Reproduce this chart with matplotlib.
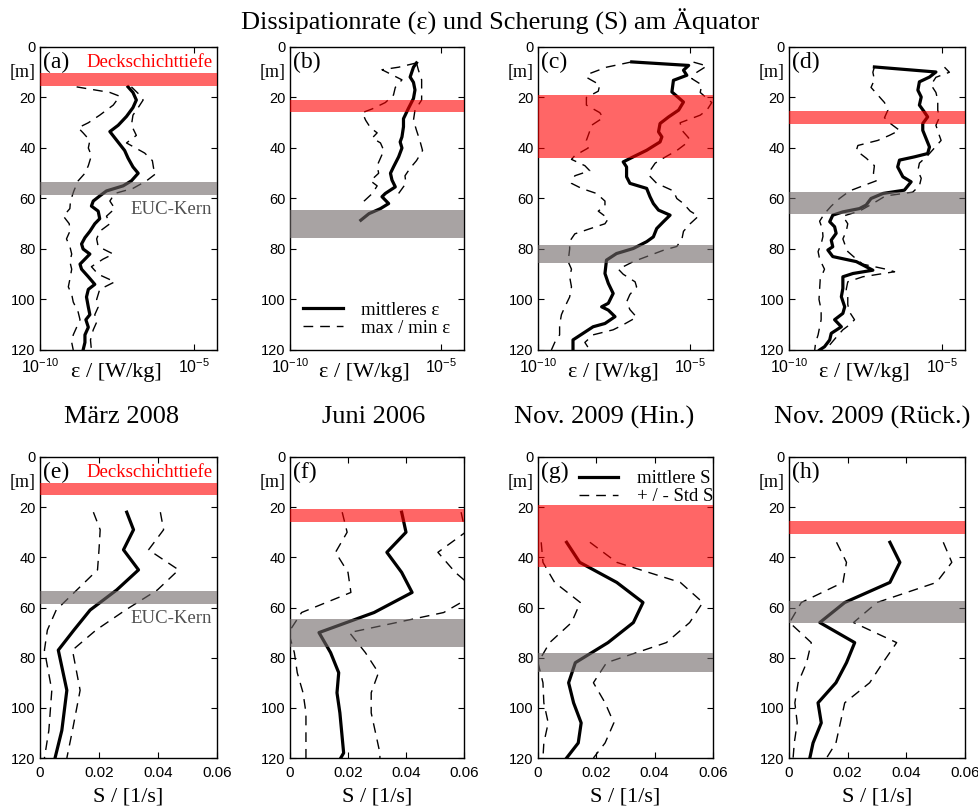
import matplotlib
matplotlib.use("Agg")
import matplotlib.pyplot as plt
import numpy as np
from matplotlib.ticker import NullLocator

SERIF = "Liberation Serif"
SANS = "Liberation Sans"
plt.rcParams["font.family"] = SANS
plt.rcParams["mathtext.fontset"] = "custom"
plt.rcParams["mathtext.rm"] = SANS
plt.rcParams["mathtext.it"] = SANS + ":italic"
plt.rcParams["mathtext.bf"] = SANS + ":bold"

# --- dissipation rate, log10(eps) in W/kg, against depth in m ---
# (a) Maerz 2008
depth_mean_a = [15.8, 18, 21, 24, 27.5, 31, 33.5, 36, 41, 44, 47.5, 50, 53, 55, 57,
                59, 61, 63, 65, 68, 70, 73, 75.5, 78, 80, 82, 84, 86, 88, 91,
                94, 96, 99, 103, 106, 108, 111, 114, 117, 120]
eps_mean_a = [-7.14, -6.98, -6.87, -6.98, -7.19, -7.46, -7.73, -7.57, -7.25, -7.14,
              -6.98, -6.81, -7.03, -7.30, -7.84, -8.06, -8.27, -8.33, -8.11, -8.06,
              -8.22, -8.38, -8.54, -8.65, -8.60, -8.38, -8.54, -8.70, -8.65, -8.43,
              -8.22, -8.43, -8.49, -8.43, -8.38, -8.51, -8.43, -8.54, -8.54, -8.60]
depth_max_a = [15.8, 19, 21, 24, 27, 31, 35, 38, 42, 45, 48, 50, 53, 56, 58, 61, 64,
               67, 70, 73, 76, 79, 82, 84, 87, 90, 93, 96, 100, 103, 106, 109, 112,
               116, 120]
eps_max_a = [-7.03, -6.76, -6.65, -6.81, -6.98, -7.03, -6.87, -7.19, -6.60, -6.35,
             -6.31, -6.22, -6.54, -6.98, -7.57, -7.73, -7.57, -7.84, -7.73, -8.06,
             -8.16, -8.11, -7.62, -7.95, -8.33, -8.11, -7.57, -8.06, -8.16, -8.11,
             -8.22, -8.16, -8.27, -8.36, -8.33]
depth_min_a = [15.8, 18, 19.5, 23, 27, 30, 32, 34, 37, 40, 43, 47, 50, 53, 57, 61, 64,
               67, 70, 73, 76, 79, 82, 85, 88, 92, 95, 98, 101, 105, 108, 111, 114,
               117, 120]
eps_min_a = [-8.81, -7.73, -7.41, -7.62, -8.06, -8.43, -8.76, -8.60, -8.38, -8.43,
             -8.33, -8.43, -8.54, -8.76, -8.90, -9.01, -9.03, -9.24, -9.05, -9.03,
             -9.14, -9.03, -8.97, -9.03, -8.97, -9.03, -9.08, -8.97, -8.92, -8.76,
             -8.70, -8.81, -8.92, -8.97, -8.92]

# (b) Juni 2006
depth_mean_b = [6.3, 8, 11.9, 14, 17, 20.4, 24.4, 28.4, 31.6, 35.6, 37.6, 40, 43.5,
                47.5, 50, 52.7, 55.4, 58, 59.3, 62, 64, 66, 68.6]
eps_mean_b = [-5.82, -5.92, -6.03, -5.92, -5.87, -5.92, -6.09, -6.25, -6.25, -6.30,
              -6.36, -6.30, -6.41, -6.58, -6.68, -6.63, -6.52, -6.85, -6.96, -6.74,
              -7.01, -7.39, -7.66]
depth_max_b = [6.3, 9, 13, 17, 21, 25, 29, 33, 37, 41, 45, 48, 51, 54, 58]
eps_max_b = [-5.82, -5.76, -5.65, -5.65, -5.65, -5.87, -5.92, -5.82, -5.71, -5.62,
             -5.82, -6.03, -6.20, -6.17, -6.41]
depth_min_b = [6.3, 8, 9, 11, 13, 16, 19, 22, 24.5, 26, 29, 32, 34, 36, 38, 41, 44,
               47, 50, 53, 55, 58, 61, 62]
eps_min_b = [-5.82, -6.41, -6.96, -6.63, -6.30, -6.52, -6.58, -6.85, -7.28, -7.61,
             -7.50, -7.34, -7.12, -7.28, -7.01, -6.90, -7.01, -7.12, -7.07, -7.34,
             -7.12, -7.28, -7.55, -7.61]

# (c) Nov. 2009, Hinfahrt
depth_mean_c = [5.9, 7.3, 9.2, 11.2, 13.2, 17.8, 21.8, 25, 27.7, 30.3, 33.6, 35.6,
                37.6, 40.9, 43.5, 45.5, 47.5, 51.4, 54, 56, 59.3, 62, 64.6, 66.6,
                69.2, 71.9, 75.2, 77.1, 79.8, 81.8, 84.4, 89.7, 93.6, 97.6, 101.5,
                102.9, 104.2, 106.8, 109.5, 110.8, 113.4, 116, 120]
eps_mean_c = [-6.92, -5.05, -5.22, -5.11, -5.55, -5.60, -5.22, -5.38, -5.71, -5.99,
              -6.04, -5.93, -5.99, -6.43, -6.87, -7.20, -7.09, -7.09, -6.98, -6.43,
              -6.32, -6.21, -6.04, -5.66, -5.88, -6.10, -6.21, -6.43, -6.87, -7.42,
              -7.75, -7.80, -7.69, -7.53, -7.69, -7.91, -7.69, -7.47, -7.80, -8.19,
              -8.52, -8.85, -8.85]
depth_max_c = [6, 7.5, 10, 12.5, 15, 18, 22, 25, 27, 30, 33, 36, 38, 41, 44, 46, 49,
               51, 54, 57, 60, 62, 65, 67, 70, 73, 76, 79, 80.5, 83, 85, 88, 90, 93,
               95, 98, 101, 104, 107, 110, 112, 114, 117, 120]
eps_max_c = [-4.89, -4.45, -4.78, -4.95, -4.62, -4.67, -4.29, -4.45, -4.67, -5.33,
             -5.27, -5.05, -5.11, -5.44, -5.88, -6.15, -6.32, -6.34, -6.10, -5.55,
             -5.44, -5.22, -5.00, -4.73, -5.00, -5.22, -5.27, -5.44, -5.88, -6.43,
             -6.87, -7.36, -7.20, -6.81, -6.76, -6.98, -7.09, -6.98, -6.76, -7.20,
             -7.53, -8.19, -8.46, -8.30]
depth_min_c = [5.9, 8, 10.5, 12, 15, 17.5, 20, 23, 26, 28, 31, 34, 37, 40, 43, 44.5,
               47, 49, 51, 54, 56, 58, 61, 63, 65, 68, 70, 72, 74, 77, 80, 85, 88,
               91, 95, 99, 103, 106, 110, 114, 117, 120]
eps_min_c = [-6.92, -7.75, -8.30, -8.41, -7.97, -8.02, -8.41, -8.41, -7.97, -7.86,
             -8.24, -8.32, -8.41, -8.35, -8.79, -8.90, -8.46, -8.30, -8.79, -8.90,
             -8.57, -8.08, -7.80, -7.80, -8.02, -7.69, -7.80, -8.30, -8.79, -8.96,
             -8.96, -9.01, -8.90, -8.96, -8.90, -8.96, -9.12, -9.23, -9.29, -9.29,
             -9.45, -9.56]

# (d) Nov. 2009, Rueckfahrt
depth_mean_d = [7.9, 9.9, 11.9, 13.8, 17.1, 19.8, 23, 25.7, 27.7, 30.3, 33, 36.3,
                39.6, 42.2, 43.5, 44.8, 47.5, 51.4, 53.4, 56.7, 58, 60, 62.6, 64,
                65.3, 66.6, 69.2, 71.2, 73.8, 76.5, 79.1, 80.4, 83, 85, 88.4, 89.7,
                91, 95.6, 98.9, 102.9, 105.5, 108, 110.8, 113.4, 116, 118.7, 120]
eps_mean_d = [-7.21, -5.20, -5.41, -5.74, -5.79, -5.68, -5.74, -5.58, -5.47, -5.63,
              -5.63, -5.52, -5.41, -5.47, -5.90, -6.39, -6.45, -6.28, -6.01, -6.23,
              -6.93, -7.32, -7.48, -7.70, -8.24, -8.57, -8.67, -8.51, -8.46, -8.62,
              -8.57, -8.73, -8.57, -7.80, -7.26, -7.91, -8.24, -8.24, -8.29, -8.18,
              -8.24, -8.51, -8.29, -8.62, -8.67, -8.84, -9.00]
depth_max_d = [8, 10, 12, 15, 18, 21, 25, 28, 31, 35, 37, 40, 43, 46, 49, 52, 55,
               57.5, 59, 62, 65, 67, 70, 73, 76, 78, 81, 84, 86, 88, 89, 91, 93, 96,
               99, 102, 105, 108, 110, 112, 115, 118, 120]
eps_max_d = [-4.92, -4.76, -5.20, -5.36, -5.20, -5.14, -5.14, -5.09, -5.20, -5.09,
             -5.03, -5.25, -5.47, -5.74, -5.79, -5.68, -5.74, -5.96, -6.85, -7.26,
             -7.70, -8.24, -8.08, -8.13, -8.24, -8.18, -8.08, -7.80, -7.59, -6.83,
             -6.55, -7.59, -8.08, -8.13, -8.08, -8.08, -8.02, -7.86, -8.02, -8.24,
             -8.46, -8.67, -8.78]
depth_min_d = [7.9, 10, 13, 16, 19, 22, 25, 28, 30, 33, 35, 37, 39, 41, 44, 47, 50,
               53, 55, 57, 60, 63, 66, 69, 72, 75, 78, 81, 84, 88, 92, 96, 100, 104,
               108, 111, 114, 117, 120]
eps_min_d = [-7.21, -7.26, -7.21, -7.32, -7.10, -6.88, -6.77, -6.88, -6.72, -6.39,
             -6.72, -7.10, -7.75, -7.80, -7.48, -7.21, -7.24, -7.15, -7.59, -8.02,
             -8.35, -8.62, -8.84, -9.00, -8.91, -8.89, -8.95, -9.05, -9.00, -8.84,
             -8.98, -9.00, -9.02, -8.95, -8.95, -9.00, -9.05, -9.13, -9.16]

# --- shear S in 1/s: mean and mean +/- std ---
depth_e = [22, 29, 37, 45, 53, 61, 69, 77, 93, 109, 120]
s_mean_e = [0.0294, 0.0317, 0.0283, 0.0334, 0.0260, 0.0170, 0.0115, 0.0062, 0.0091, 0.0074, 0.0051]
s_max_e = [0.0408, 0.0419, 0.0368, 0.0470, 0.0398, 0.0290, 0.0190, 0.0110, 0.0136, 0.0110, 0.0091]
s_min_e = [0.0181, 0.0204, 0.0200, 0.0195, 0.0125, 0.0055, 0.0025, 0.0015, 0.0040, 0.0030, 0.0015]

depth_f = [22, 30, 38, 46, 54, 62, 70, 78, 86, 94, 102, 118, 120]
s_mean_f = [0.0385, 0.0400, 0.0334, 0.0385, 0.0421, 0.0290, 0.0100, 0.0140, 0.0168, 0.0162, 0.0172, 0.0185, 0.0175]
s_max_f = [0.0590, 0.0605, 0.0510, 0.0570, 0.0650, 0.0530, 0.0205, 0.0260, 0.0305, 0.0280, 0.0280, 0.0310, 0.0310]
s_min_f = [0.0180, 0.0197, 0.0157, 0.0200, 0.0210, 0.0040, -0.0005, 0.0015, 0.0025, 0.0045, 0.0055, 0.0055, 0.0055]

depth_g = [34, 42, 50, 58, 66, 74, 82, 90, 98, 106, 114, 120]
s_mean_g = [0.0098, 0.0143, 0.0270, 0.0360, 0.0327, 0.0240, 0.0128, 0.0105, 0.0122, 0.0148, 0.0138, 0.0098]
s_max_g = [0.0178, 0.0270, 0.0488, 0.0565, 0.0520, 0.0440, 0.0235, 0.0190, 0.0230, 0.0260, 0.0230, 0.0190]
s_min_g = [0.0011, 0.0017, 0.0057, 0.0145, 0.0115, 0.0040, 0.0000, 0.0017, 0.0020, 0.0035, 0.0020, 0.0017]

depth_h = [34, 42, 50, 58, 66, 74, 82, 90, 98, 106, 114, 120]
s_mean_h = [0.0344, 0.0378, 0.0344, 0.0190, 0.0105, 0.0224, 0.0196, 0.0160, 0.0099, 0.0110, 0.0082, 0.0071]
s_max_h = [0.0526, 0.0555, 0.0503, 0.0300, 0.0220, 0.0367, 0.0320, 0.0275, 0.0190, 0.0175, 0.0160, 0.0128]
s_min_h = [0.0162, 0.0196, 0.0184, 0.0042, 0.0002, 0.0076, 0.0060, 0.0031, 0.0020, 0.0028, 0.0018, 0.0014]

# mixed layer depth and EUC core per cruise [m]
months = ["März 2008", "Juni 2006", "Nov. 2009 (Hin.)", "Nov. 2009 (Rück.)"]
mld_top = [10.2, 20.8, 19.1, 25.4]
mld_bot = [15.3, 25.8, 44.0, 30.6]
euc_top = [53.6, 64.6, 78.3, 57.6]
euc_bot = [58.8, 75.6, 85.6, 66.1]

eps_profiles = [
    ((depth_mean_a, eps_mean_a), (depth_max_a, eps_max_a), (depth_min_a, eps_min_a)),
    ((depth_mean_b, eps_mean_b), (depth_max_b, eps_max_b), (depth_min_b, eps_min_b)),
    ((depth_mean_c, eps_mean_c), (depth_max_c, eps_max_c), (depth_min_c, eps_min_c)),
    ((depth_mean_d, eps_mean_d), (depth_max_d, eps_max_d), (depth_min_d, eps_min_d)),
]
shear_profiles = [
    (depth_e, s_mean_e, s_max_e, s_min_e),
    (depth_f, s_mean_f, s_max_f, s_min_f),
    (depth_g, s_mean_g, s_max_g, s_min_g),
    (depth_h, s_mean_h, s_max_h, s_min_h),
]

RED = (1.0, 0.0, 0.0)
GREY = (0.43, 0.40, 0.40)
DASH = (0, (7, 5))

W, H = 979, 809
cols = [(40, 217), (290, 464), (538, 713), (789, 965)]
rows = [(47, 350), (457, 758)]

fig = plt.figure(figsize=(W / 100, H / 100), dpi=100)


def make_axes(col, row):
    x0, x1 = cols[col]
    y0, y1 = rows[row]
    return fig.add_axes([x0 / W, 1 - y1 / H, (x1 - x0) / W, (y1 - y0) / H])


def depth_axis(ax, letter):
    ax.set_ylim(120, 0)
    ax.set_yticks(range(0, 121, 20))
    ax.tick_params(direction="in", top=True, right=True, length=4, width=0.8,
                   labelsize=10.5, pad=3)
    for s in ax.spines.values():
        s.set_linewidth(1.0)
    ax.text(-0.025, 10, "[m]", transform=ax.get_yaxis_transform(), ha="right",
            va="center", fontsize=13, family=SERIF)
    ax.text(0.018, 6, "(%s)" % letter, transform=ax.get_yaxis_transform(),
            ha="left", va="center", fontsize=17, family=SERIF, zorder=5)


def add_bands(ax, i, labels=False):
    ax.axhspan(mld_top[i], mld_bot[i], color=RED, alpha=0.6, lw=0, zorder=3)
    ax.axhspan(euc_top[i], euc_bot[i], color=GREY, alpha=0.6, lw=0, zorder=3)
    if labels:
        ax.text(0.975, 6, "Deckschichttiefe", transform=ax.get_yaxis_transform(),
                ha="right", va="center", fontsize=13.5, family=SERIF, color="red")
        ax.text(0.97, 64.5, "EUC-Kern", transform=ax.get_yaxis_transform(),
                ha="right", va="center", fontsize=13.5, family=SERIF, color="#505050")


# top row: dissipation rate
for i, (mean, hi, lo) in enumerate(eps_profiles):
    ax = make_axes(i, 0)
    l1, = ax.plot(10 ** np.array(mean[1]), mean[0], color="k", lw=2.3,
                  solid_joinstyle="round", label="mittleres ε")
    l2, = ax.plot(10 ** np.array(hi[1]), hi[0], color="k", lw=1.0, ls=DASH,
                  label="max / min ε")
    ax.plot(10 ** np.array(lo[1]), lo[0], color="k", lw=1.0, ls=DASH)
    ax.set_xscale("log")
    ax.set_xlim(1e-10, 10 ** -4.25)
    ax.set_xticks([1e-10, 1e-5], [r"$10^{-10}$", r"$10^{-5}$"])
    ax.xaxis.set_minor_locator(NullLocator())
    depth_axis(ax, "abcd"[i])
    ax.tick_params(axis="x", labelsize=11.5, pad=5.5)
    add_bands(ax, i, labels=(i == 0))
    ax.text(0.43, -0.075, "ε / [W/kg]", transform=ax.transAxes, ha="center",
            va="center", fontsize=16, family=SERIF)
    if i == 1:
        ax.legend(handles=[l1, l2], loc="lower left", bbox_to_anchor=(0.0, 0.0),
                  frameon=False, prop={"family": SERIF, "size": 13.5},
                  handlelength=2.1, handletextpad=1.0, labelspacing=0.05,
                  borderpad=0.2)

# bottom row: shear
for i, (depth, s_mean, s_max, s_min) in enumerate(shear_profiles):
    ax = make_axes(i, 1)
    l1, = ax.plot(s_mean, depth, color="k", lw=2.3, solid_joinstyle="round",
                  label="mittlere S")
    l2, = ax.plot(s_max, depth, color="k", lw=1.0, ls=DASH, label="+ / - Std S")
    ax.plot(s_min, depth, color="k", lw=1.0, ls=DASH)
    ax.set_xlim(0, 0.06)
    ax.set_xticks([0, 0.02, 0.04, 0.06], ["0", "0.02", "0.04", "0.06"])
    depth_axis(ax, "efgh"[i])
    ax.tick_params(axis="x", labelsize=11, pad=6)
    add_bands(ax, i, labels=(i == 0))
    ax.text(0.5, -0.13, "S / [1/s]", transform=ax.transAxes, ha="center",
            va="center", fontsize=16, family=SERIF)
    if i == 2:
        ax.legend(handles=[l1, l2], loc="upper left", bbox_to_anchor=(0.16, 1.0),
                  frameon=False, prop={"family": SERIF, "size": 13.5},
                  handlelength=2.1, handletextpad=1.0, labelspacing=0.05,
                  borderpad=0.2)

fig.text(500 / W, 1 - 22 / H, "Dissipationrate (ε) und Scherung (S) am Äquator",
         ha="center", va="center", fontsize=19, family=SERIF)
for x, name in zip([122, 374, 604, 872], months):
    fig.text(x / W, 1 - 417 / H, name, ha="center", va="center", fontsize=19,
             family=SERIF)

fig.savefig("out.png", dpi=100)
